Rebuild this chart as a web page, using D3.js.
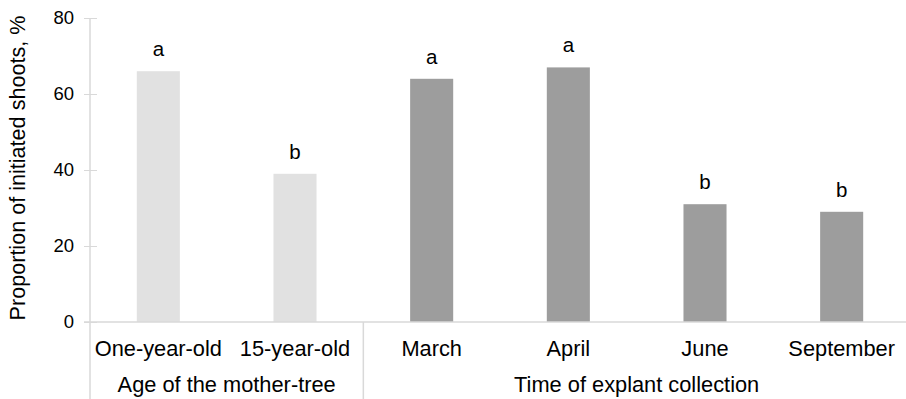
<!DOCTYPE html>
<html>
<head>
<meta charset="utf-8">
<script src="https://cdn.jsdelivr.net/npm/d3@7"></script>
<style>
  body { margin: 0; background: #fff; }
  text { font-family: "Liberation Sans", Arial, sans-serif; fill: #000; }
</style>
</head>
<body>
<div id="graph"></div>
<script>
const categories = ["One-year-old", "15-year-old", "March", "April", "June", "September"];
const values = [66, 39, 64, 67, 31, 29];
const letters = ["a", "b", "a", "a", "b", "b"];
const groupOf = [0, 0, 1, 1, 1, 1];
const groups = ["Age of the mother-tree", "Time of explant collection"];
const yTicks = [0, 20, 40, 60, 80];

const width = 906, height = 399;
const plotLeft = 90, plotRight = 910, plotTop = 18, plotBottom = 322;
const barColors = ["#e1e1e1", "#9d9d9d"];
const lineColor = "#d9d9d9";

const svg = d3.select("#graph").append("svg")
    .attr("width", width)
    .attr("height", height);

const x = d3.scaleBand().domain(categories).range([plotLeft, plotRight]).padding(0);
const y = d3.scaleLinear().domain([0, 80]).range([plotBottom, plotTop]);
const barW = x.bandwidth() * 0.315;

// y axis
const yAxis = svg.append("g")
    .attr("transform", "translate(" + plotLeft + ",0)")
    .call(d3.axisLeft(y).tickValues(yTicks).tickSize(0).tickPadding(16));
yAxis.select(".domain").remove();
yAxis.selectAll("text").attr("font-size", 18.5).attr("fill", "#000")
    .style("font-family", "Liberation Sans, Arial, sans-serif");
yAxis.selectAll(".tick").append("line")
    .attr("x1", -6).attr("x2", 7)
    .attr("stroke", lineColor);

svg.append("line")
    .attr("x1", plotLeft).attr("x2", plotLeft)
    .attr("y1", plotTop).attr("y2", height)
    .attr("stroke", lineColor).attr("stroke-width", 1.5);

// bars
svg.selectAll("rect.bar")
    .data(categories)
    .enter().append("rect")
    .attr("class", "bar")
    .attr("x", (d) => x(d) + (x.bandwidth() - barW) / 2)
    .attr("y", (d, i) => y(values[i]))
    .attr("width", barW)
    .attr("height", (d, i) => y(0) - y(values[i]))
    .attr("fill", (d, i) => barColors[groupOf[i]]);

// significance letters
svg.selectAll("text.letter")
    .data(categories)
    .enter().append("text")
    .attr("class", "letter")
    .attr("x", (d) => x(d) + x.bandwidth() / 2)
    .attr("y", (d, i) => y(values[i]) - 15)
    .attr("text-anchor", "middle")
    .attr("font-size", 20.5)
    .text((d, i) => letters[i]);

// baseline
svg.append("line")
    .attr("x1", plotLeft - 6).attr("x2", plotRight)
    .attr("y1", y(0)).attr("y2", y(0))
    .attr("stroke", lineColor).attr("stroke-width", 1.5);

// category labels
svg.selectAll("text.cat")
    .data(categories)
    .enter().append("text")
    .attr("class", "cat")
    .attr("x", (d) => x(d) + x.bandwidth() / 2)
    .attr("y", 356)
    .attr("text-anchor", "middle")
    .attr("font-size", 21.8)
    .text((d) => d);

// group labels and separators
groups.forEach((g, gi) => {
    const members = categories.filter((c, i) => groupOf[i] === gi);
    const x0 = x(members[0]);
    const x1 = x(members[members.length - 1]) + x.bandwidth();
    svg.append("text")
        .attr("x", (x0 + x1) / 2)
        .attr("y", 392)
        .attr("text-anchor", "middle")
        .attr("font-size", 21.8)
        .text(g);
    if (gi > 0) {
        svg.append("line")
            .attr("x1", x0).attr("x2", x0)
            .attr("y1", y(0)).attr("y2", height)
            .attr("stroke", lineColor).attr("stroke-width", 1.5);
    }
});

// y title
svg.append("text")
    .attr("transform", "translate(25,168) rotate(-90)")
    .attr("text-anchor", "middle")
    .attr("font-size", 21.6)
    .text("Proportion of initiated shoots, %");
</script>
</body>
</html>
